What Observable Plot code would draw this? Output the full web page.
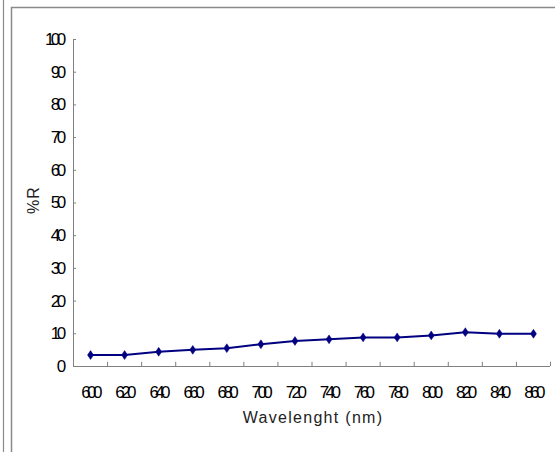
<!DOCTYPE html>
<html>
<head>
<meta charset="utf-8">
<script src="https://cdn.jsdelivr.net/npm/d3@7"></script>
<script src="https://cdn.jsdelivr.net/npm/@observablehq/plot@0.6"></script>
<style>
  html, body { margin: 0; padding: 0; background: #fff; }
  #chart { width: 555px; height: 452px; overflow: hidden; }
  #chart g[aria-label="x-axis tick label"] text,
  #chart g[aria-label="y-axis tick label"] text { letter-spacing: -3.6px; }
  #chart g.xlab text { letter-spacing: 1.3px; }
  #chart g.ylab text { letter-spacing: 1px; }
</style>
</head>
<body>
<div id="chart"></div>
<script>
const wavelengths = [600, 620, 640, 660, 680, 700, 720, 740, 760, 780, 800, 820, 840, 860];
const reflectance = [3.5, 3.5, 4.5, 5.1, 5.6, 6.8, 7.8, 8.3, 8.9, 8.9, 9.5, 10.5, 10.0, 10.0];
const yTicks = [0, 10, 20, 30, 40, 50, 60, 70, 80, 90, 100];
const xLabel = "Wavelenght (nm)";
const yLabel = "%R";

const data = wavelengths.map((w, i) => ({i, w, r: reflectance[i]}));
const idx = wavelengths.map((_, i) => i);
const bounds = d3.range(wavelengths.length + 1).map(i => i - 0.5);

const axisColor = "#808080";
const navy = "#000080";

const tallDiamond = {
  draw(context, size) {
    const s = Math.sqrt(size);
    const w = s * 0.34, h = s * 0.5;
    context.moveTo(0, -h);
    context.lineTo(w, 0);
    context.lineTo(0, h);
    context.lineTo(-w, 0);
    context.closePath();
  }
};

const fontFam = "'Liberation Sans', Arial, sans-serif";

const chart = Plot.plot({
  width: 555,
  height: 452,
  marginLeft: 73,
  marginRight: 5,
  marginTop: 39,
  marginBottom: 86,
  style: {fontFamily: fontFam, fontSize: "16px", background: "#fff", color: "#000"},
  x: {type: "linear", domain: [-0.5, wavelengths.length - 0.5]},
  y: {type: "linear", domain: [0, 100]},
  marks: [
    Plot.ruleX([-0.5], {y1: 0, y2: 100, stroke: axisColor, strokeWidth: 1}),
    Plot.ruleY([0], {x1: -0.5, x2: wavelengths.length - 0.5, stroke: axisColor, strokeWidth: 1}),
    Plot.ruleX(bounds, {x: d => d, y1: 0, y2: 1.3, stroke: axisColor}),
    Plot.ruleY(yTicks, {y: d => d, x1: -0.5, x2: -0.41, stroke: axisColor}),
    Plot.axisX(idx, {tickSize: 0, tickPadding: 19, tickFormat: i => wavelengths[i], label: null,
      fontSize: 17, dx: -0.5}),
    Plot.axisY(yTicks, {tickSize: 0, tickPadding: 11, label: null, fontSize: 17}),
    Plot.text([xLabel], {frameAnchor: "bottom", dy: 56, fontSize: 16, fill: "#222", className: "xlab", dx: 1}),
    Plot.text([yLabel], {frameAnchor: "left", dx: -40, dy: 11, rotate: -90, fontSize: 16, fill: "#222", className: "ylab"}),
    Plot.line(data, {x: "i", y: "r", stroke: navy, strokeWidth: 2}),
    Plot.dot(data, {x: "i", y: "r", symbol: tallDiamond, r: 5, fill: navy, stroke: navy, strokeWidth: 0.5})
  ]
});

document.getElementById("chart").appendChild(chart);

const svg = d3.select(chart);
svg.insert("g", ":first-child").call(g => {
  g.append("line").attr("x1", 3.5).attr("x2", 3.5).attr("y1", 0).attr("y2", 452)
    .attr("stroke", "#8a8a8a").attr("stroke-width", 1.2);
  g.append("path").attr("d", "M555,7.5H11.5V452").attr("fill", "none")
    .attr("stroke", "#8a8a8a").attr("stroke-width", 1.5);
});
</script>
</body>
</html>
